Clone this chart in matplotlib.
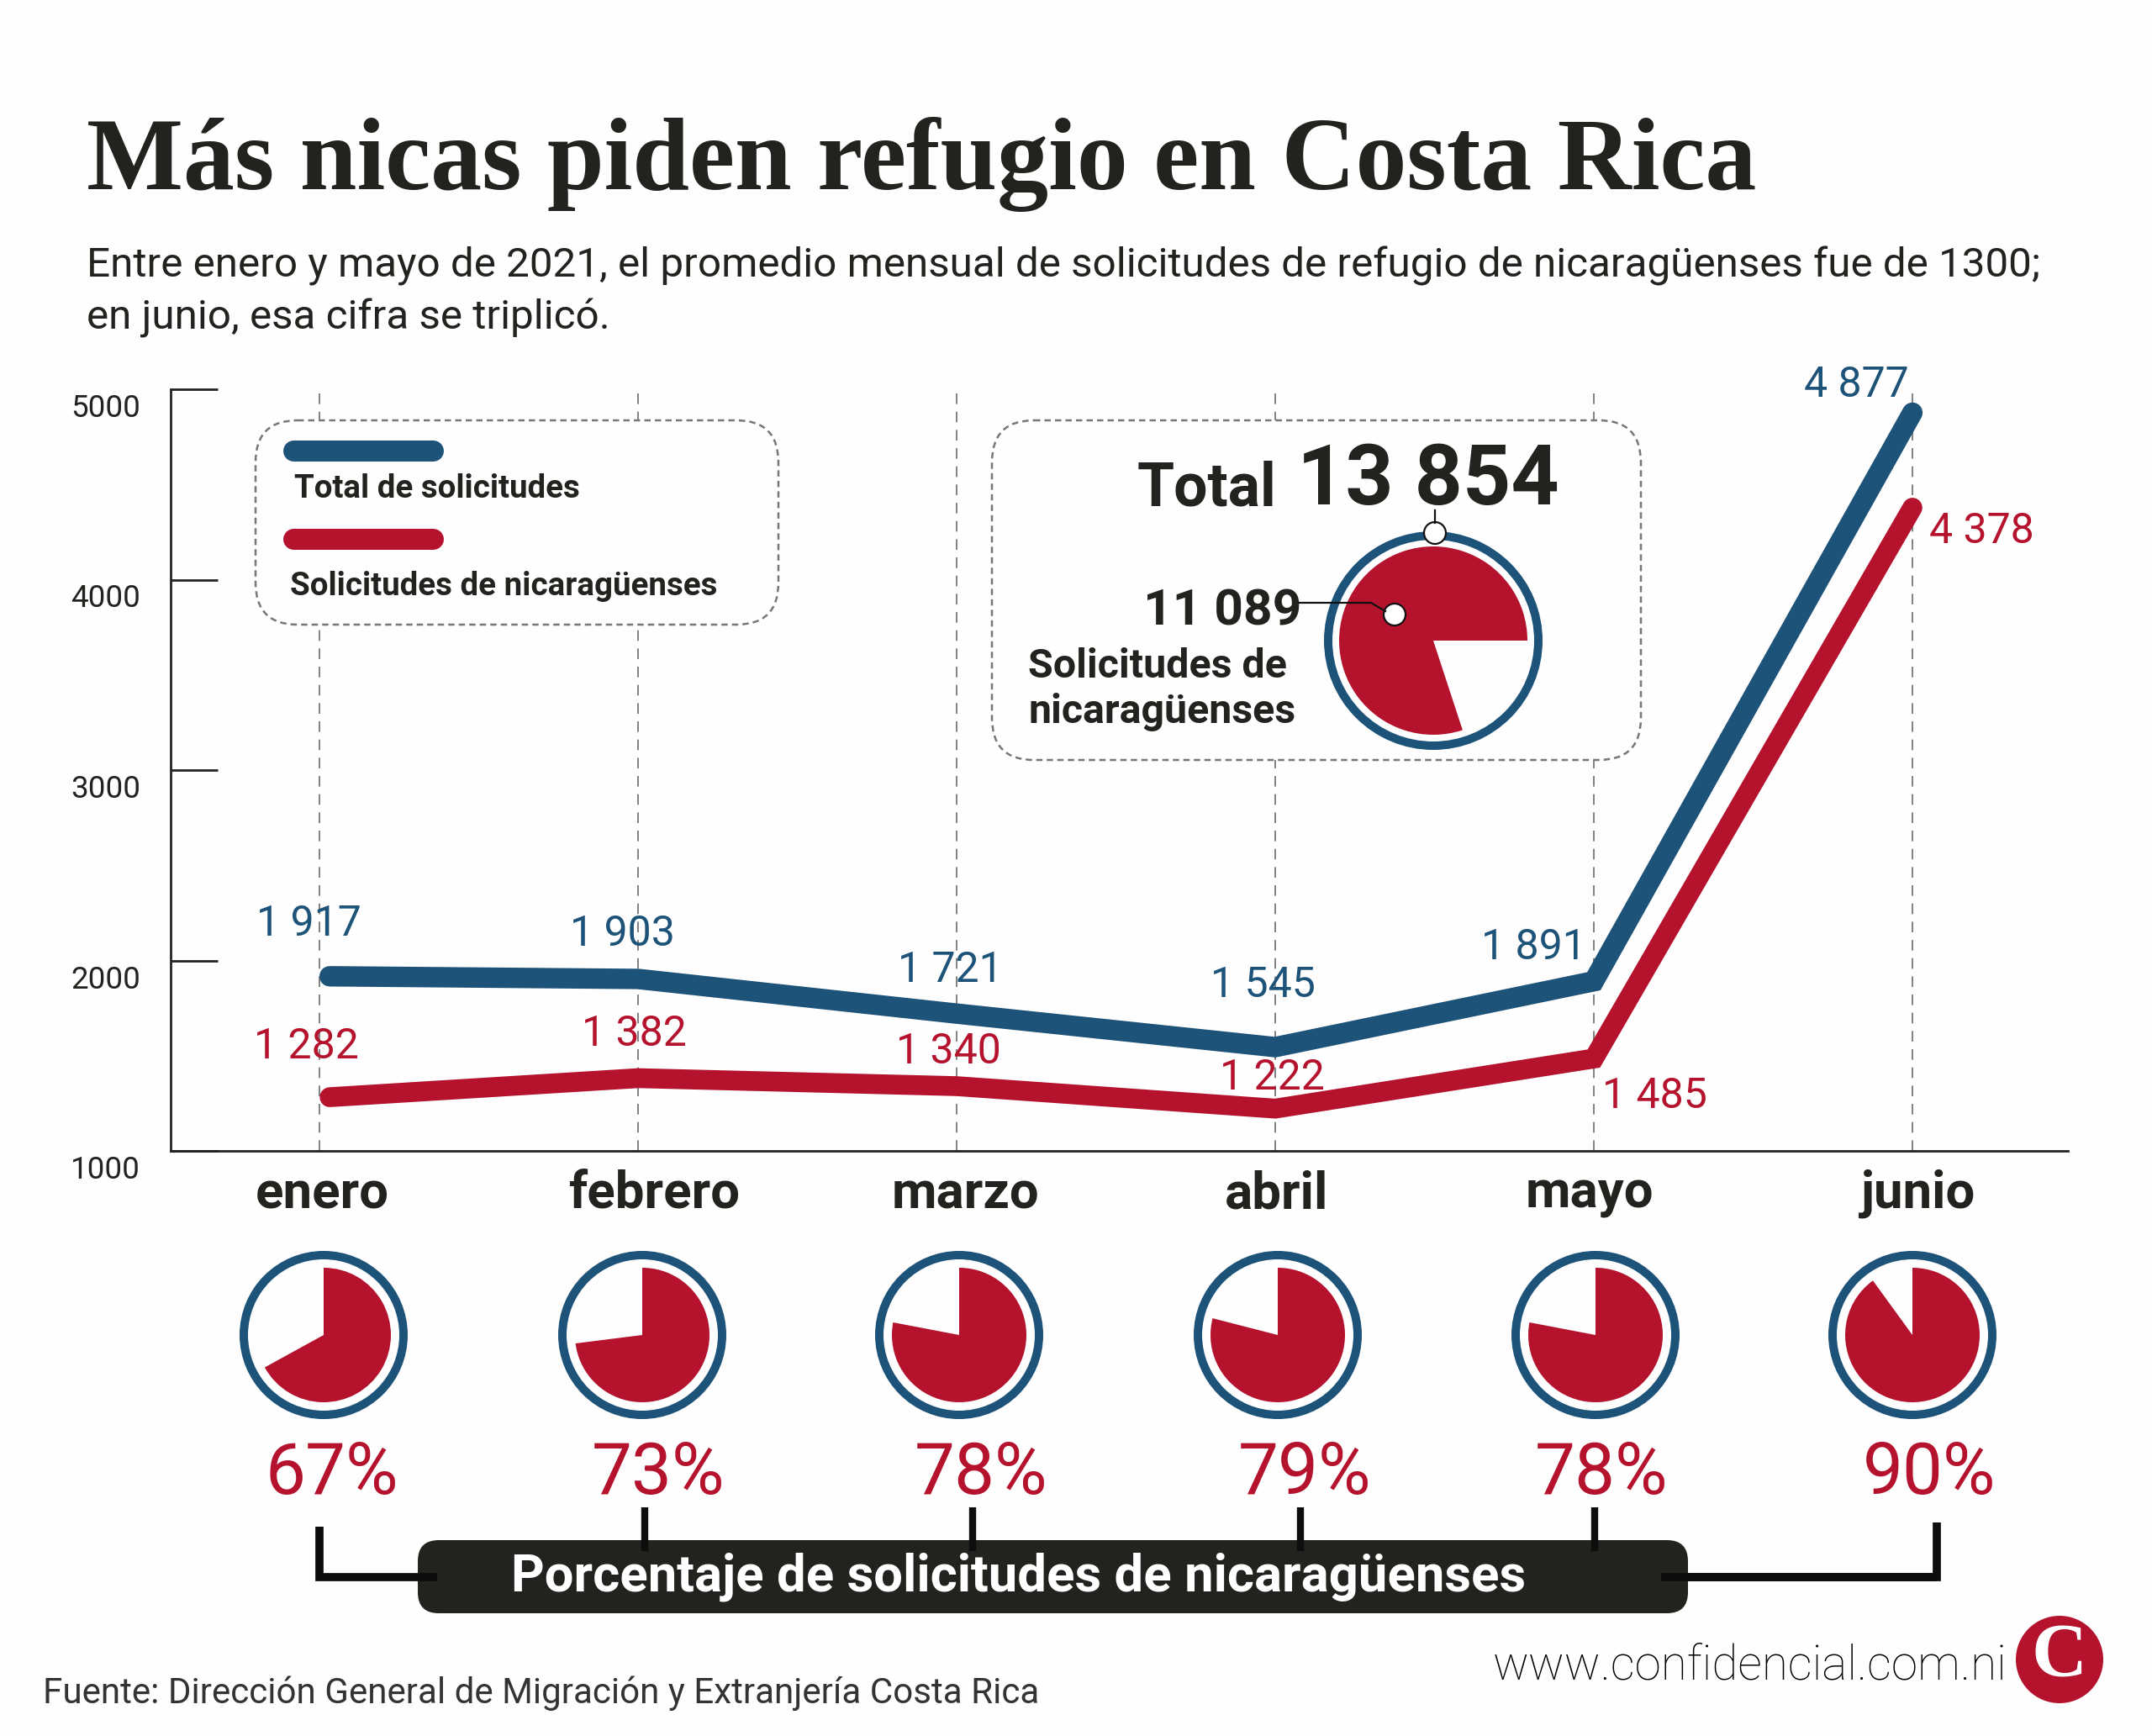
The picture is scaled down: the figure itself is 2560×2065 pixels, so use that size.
import matplotlib
matplotlib.use("Agg")
import matplotlib.pyplot as plt
from matplotlib.patches import Circle, FancyBboxPatch
from matplotlib.transforms import ScaledTranslation

W, H = 2560, 2065
BLUE = "#1d5279"
RED = "#b5122e"
DARK = "#22231f"
GRAY = "#777777"

plt.rcParams["font.family"] = ["Roboto", "DejaVu Sans"]

months = ["enero", "febrero", "marzo", "abril", "mayo", "junio"]
total = [1917, 1903, 1721, 1545, 1891, 4877]
nicas = [1282, 1382, 1340, 1222, 1485, 4378]
pct = [67, 73, 78, 79, 78, 90]
yticks = [1000, 2000, 3000, 4000, 5000]
total_sum = 13854
nicas_sum = 11089

# the drawn lines begin a little right of the first gridline
line_x = [0.032, 1, 2, 3, 4, 5]

# label offsets from the data point, in pixels
total_off = [(-13, 62), (-19, 53), (-8, 52), (-15, 74), (-72, 40), (-67, 33)]
nicas_off = [(-16, 60), (-5, 52), (-10, 41), (-4, 37), (72, -45), (82, -28)]


def fmt(v):
    return f"{v:,}".replace(",", " ")


def pie_ax(cx, cy, ring_r, pie_r, ring_w, frac, start, ccw):
    # one pie with its ring, placed by pixel centre
    pad = ring_r + 4
    a = fig.add_axes([(cx - pad) / W, 1 - (cy + pad) / H, 2 * pad / W, 2 * pad / H])
    a.pie([frac, 100 - frac], colors=[RED, "none"], radius=pie_r,
          startangle=start, counterclock=ccw)
    a.add_patch(Circle((0, 0), ring_r - ring_w / 2, fill=False, ec=BLUE, lw=ring_w * 0.72))
    a.set_xlim(-pad, pad)
    a.set_ylim(-pad, pad)
    a.set_axis_off()
    return a


fig = plt.figure(figsize=(W / 100, H / 100), dpi=100, facecolor="#fefefe")

# main chart
left, right, top, bottom = 203, 2460, 463, 1369
ax = fig.add_axes([left / W, 1 - bottom / H, (right - left) / W, (bottom - top) / H])
ax.patch.set_alpha(0)
ax.set_xlim((left - 380) / 379, (right - 380) / 379)
ax.set_ylim(1000, 5000)
for s in ["top", "right"]:
    ax.spines[s].set_visible(False)
for s in ["left", "bottom"]:
    ax.spines[s].set_color(DARK)
    ax.spines[s].set_linewidth(2)
ax.set_xticks([])
ax.set_yticks(yticks)
ax.set_yticklabels([str(t) for t in yticks], fontsize=26.5, color=DARK, va="top")
ax.tick_params(axis="y", direction="in", length=40, width=2, color=DARK, pad=26)
for lab in ax.get_yticklabels():
    lab.set_transform(lab.get_transform() + ScaledTranslation(0, -5 / 100, fig.dpi_scale_trans))

for i in range(6):
    ax.plot([i, i], [1000, 5000], color=GRAY, lw=1.3, dashes=(7, 5), zorder=1)
ax.plot(line_x, total, color=BLUE, lw=17.5, solid_capstyle="round", solid_joinstyle="miter", zorder=3)
ax.plot(line_x, nicas, color=RED, lw=17, solid_capstyle="round", solid_joinstyle="miter", zorder=3)

for i in range(6):
    ax.annotate(fmt(total[i]), (i, total[i]), xytext=total_off[i], textcoords="offset pixels",
                ha="center", va="center", fontsize=36, color=BLUE, zorder=4)
    ax.annotate(fmt(nicas[i]), (i, nicas[i]), xytext=nicas_off[i], textcoords="offset pixels",
                ha="center", va="center", fontsize=36, color=RED, zorder=4)

# everything else sits on a pixel overlay
ov = fig.add_axes([0, 0, 1, 1])
ov.set_xlim(0, W)
ov.set_ylim(H, 0)
ov.set_axis_off()
ov.patch.set_alpha(0)

ov.text(103, 225, "Más nicas piden refugio en Costa Rica", fontsize=87.7, fontweight="bold",
        family="Liberation Serif", color=DARK, va="baseline")
ov.text(103, 330, "Entre enero y mayo de 2021, el promedio mensual de solicitudes de refugio de nicaragüenses fue de 1300;",
        fontsize=35.6, color=DARK, va="baseline")
ov.text(103, 392, "en junio, esa cifra se triplicó.", fontsize=35.6, color=DARK, va="baseline")

# legend box
ov.add_patch(FancyBboxPatch((354, 550), 522, 143, boxstyle="round,pad=50,rounding_size=50",
                            fc="#fefefe", ec=GRAY, lw=1.8, ls=(0, (3, 2))))
ov.plot([349, 515], [536, 536], color=BLUE, lw=18, solid_capstyle="round")
ov.plot([349, 515], [641, 641], color=RED, lw=18, solid_capstyle="round")
ov.text(350, 581, "Total de solicitudes", fontsize=27.7, fontweight="bold", color=DARK, va="center")
ov.text(345, 697, "Solicitudes de nicaragüenses", fontsize=27.7, fontweight="bold", color=DARK, va="center")

# total box
ov.add_patch(FancyBboxPatch((1230, 550), 672, 304, boxstyle="round,pad=50,rounding_size=50",
                            fc="#fefefe", ec=GRAY, lw=1.8, ls=(0, (3, 2))))
ov.text(1353, 601, "Total", fontsize=51.5, fontweight="bold", color=DARK, va="baseline")
ov.text(1543, 600, fmt(total_sum), fontsize=72, fontweight="bold", color=DARK, va="baseline")
ov.text(1360, 743, fmt(nicas_sum), fontsize=43.5, fontweight="bold", color=DARK, va="baseline")
ov.text(1223, 806, "Solicitudes de", fontsize=34.8, fontweight="bold", color=DARK, va="baseline")
ov.text(1223, 860, "nicaragüenses", fontsize=34.8, fontweight="bold", color=DARK, va="baseline")

# month names and percentages
month_x = [383, 778, 1149, 1519, 1891, 2282]
pct_x = [395, 783, 1167, 1552, 1905, 2295]
for i in range(6):
    ov.text(month_x[i], 1420, months[i], fontsize=44.5, fontweight="bold", color=DARK, ha="center", va="center")
    ov.text(pct_x[i], 1753, f"{pct[i]}%", fontsize=61.5, color=RED, ha="center", va="center")

# bracket under the percentages
ov.plot([380, 380, 520], [1816, 1876, 1876], color="#0c0d0d", lw=7, solid_joinstyle="miter", solid_capstyle="butt")
ov.plot([1976, 2304, 2304], [1876, 1876, 1811], color="#0c0d0d", lw=7, solid_joinstyle="miter", solid_capstyle="butt")
ov.add_patch(FancyBboxPatch((497 + 25, 1832 + 25), 1461, 37, boxstyle="round,pad=25,rounding_size=25",
                            fc=DARK, ec="none"))
for x in [767, 1157, 1547, 1897]:
    ov.plot([x, x], [1793, 1845], color="#0c0d0d", lw=6, solid_capstyle="butt")
ov.plot([1976, 2304], [1876, 1876], color="#0c0d0d", lw=7, solid_capstyle="butt")
ov.text(1212, 1876, "Porcentaje de solicitudes de nicaragüenses", fontsize=44.4, fontweight="bold",
        color="white", ha="center", va="center")

# footer
ov.text(51, 2014, "Fuente: Dirección General de Migración y Extranjería Costa Rica", fontsize=30.3,
        color="#333333", va="center")
ov.text(2388, 1997, "www.confidencial.com.ni", fontsize=40.8, fontweight="light", color="#000000", ha="right", va="baseline")
ov.add_patch(Circle((2450, 1974), 52, fc=RED, ec="none"))
ov.text(2450, 1972, "C", fontsize=66, fontweight="bold", family="Liberation Serif", color="white",
        ha="center", va="center")

# pies
pie_x = [385, 764, 1141, 1520, 1898, 2275]
for i in range(6):
    pie_ax(pie_x[i], 1588, 100, 80, 10, pct[i], 90, False)
pie_ax(1705, 762, 130, 112, 10, 100 * nicas_sum / total_sum, 0, True)

# callouts on top of the total pie
top_ov = fig.add_axes([0, 0, 1, 1])
top_ov.set_xlim(0, W)
top_ov.set_ylim(H, 0)
top_ov.set_axis_off()
top_ov.patch.set_alpha(0)
top_ov.plot([1707, 1707], [607, 622], color="#111111", lw=1.6)
top_ov.plot([1545, 1631, 1648], [717, 717, 727], color="#111111", lw=1.6)
top_ov.add_patch(Circle((1707, 634), 13, fc="white", ec="#111111", lw=1.6))
top_ov.add_patch(Circle((1659, 731), 13, fc="white", ec="#111111", lw=1.6))

fig.savefig("out.png", dpi=100, facecolor=fig.get_facecolor())
